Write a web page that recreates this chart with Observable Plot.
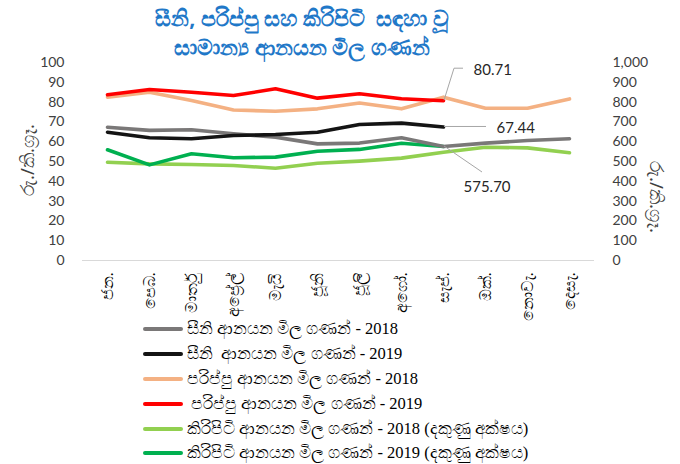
<!DOCTYPE html>
<html><head><meta charset="utf-8">
<script src="https://cdn.jsdelivr.net/npm/d3@7"></script>
<script src="https://cdn.jsdelivr.net/npm/@observablehq/plot@0.6"></script>
<style>
body{margin:0;background:#fff;width:680px;height:464px;position:relative;overflow:hidden;font-family:"Noto Sans",sans-serif}
#title{position:absolute;left:302px;top:3px;transform:translateX(-50%);text-align:center;color:#1f78c8;font-weight:bold;font-size:21.5px;line-height:29px;white-space:pre}
#chart{position:absolute;left:0;top:54px}
#legend{position:absolute;left:143px;top:317px}
.row{display:flex;align-items:center;height:24.8px;font-family:"Liberation Serif",serif;font-size:16.5px;color:#000;white-space:pre}
.sw{width:40px;height:4px;border-radius:2px;margin-right:4px}
.ytitle{position:absolute;font-size:18.5px;color:#404040;white-space:nowrap}
</style></head>
<body>
<div id="title"></div>
<div id="chart"></div>
<div class="ytitle" id="ylt"></div>
<div class="ytitle" id="yrt"></div>
<div id="legend"></div>
<script>
const titleLines = ["සීනි, පරිප්පු සහ කිරිපිටි  සඳහා වූ", "සාමාන්‍ය ආනයන මිල ගණන්"];
const axisTitle = "රු./කි.ග්‍රෑ.";
const months = ["ජන.", "පෙබ.", "මාර්තු", "අප්‍රේල්", "මැයි", "ජූනි", "ජූලි", "අගෝ.", "සැප්.", "ඔක්.", "නොවැ.", "දෙසැ."];
const leftTicks = [0,10,20,30,40,50,60,70,80,90,100];
const rightTicks = [0,100,200,300,400,500,600,700,800,900,1000];

const sugar2018 = [67.3, 65.7, 66.0, 64.0, 62.3, 58.9, 59.3, 62.0, 57.6, 59.3, 60.6, 61.5];
const sugar2019 = [64.8, 62.0, 61.5, 63.1, 63.6, 64.8, 68.7, 69.4, 67.44];
const dhal2018  = [82.5, 85.0, 80.8, 76.0, 75.4, 76.6, 79.5, 76.6, 82.5, 76.9, 76.9, 81.6];
const dhal2019  = [83.7, 86.4, 85.0, 83.3, 86.7, 82.0, 84.2, 81.7, 80.71];
const milk2018  = [496, 488, 485, 480, 466, 491, 502, 517, 547, 572, 569, 544];
const milk2019  = [559, 483, 539, 519, 522, 552, 561, 592, 575.70];

const seriesNames = [
  "සීනි ආනයන මිල ගණන් - 2018",
  "සීනි  ආනයන මිල ගණන් - 2019",
  "පරිප්පු ආනයන මිල ගණන් - 2018",
  " පරිප්පු ආනයන මිල ගණන් - 2019",
  "කිරිපිටි ආනයන මිල ගණන් - 2018 (දකුණු අක්ෂය)",
  "කිරිපිටි ආනයන මිල ගණන් - 2019 (දකුණු අක්ෂය)"
];
const seriesColors = ["#7a7878", "#141414", "#f4b183", "#ff0000", "#92d050", "#00b050"];
const seriesData = [sugar2018, sugar2019, dhal2018, dhal2019, milk2018, milk2019];
const rightAxis = [false, false, false, false, true, true];

// table built from arrays; right-axis series mapped onto left scale (÷10)
const rows = [];
seriesData.forEach((arr, s) => arr.forEach((v, i) => rows.push({series: s, month: months[i], value: v, y: rightAxis[s] ? v / 10 : v})));

// end-point annotations
const annos = [
  {series: 3, label: "80.71", lx: 10, ly: -32, tx: 30, ty: -31, seg: "elbow"},
  {series: 1, label: "67.44", lx: 42, ly: 0, tx: 53, ty: 1, seg: "straight"},
  {series: 5, label: "575.70", lx: 38, ly: 26, tx: 20, ty: 41, seg: "straight"}
].map(a => {
  const arr = seriesData[a.series];
  const v = arr[arr.length - 1];
  return {...a, month: months[arr.length - 1], y: rightAxis[a.series] ? v / 10 : v};
});

function leaders(index, scales, values, dims, context) {
  const g = d3.create("svg:g");
  for (const a of annos) {
    const x0 = scales.x(a.month) + 1, y0 = scales.y(a.y);
    const pts = a.seg === "elbow"
      ? [[x0, y0], [x0 + a.lx, y0 + a.ly], [x0 + a.lx + 9, y0 + a.ly]]
      : [[x0, y0], [x0 + a.lx, y0 + a.ly]];
    g.append("path").attr("d", d3.line()(pts)).attr("fill", "none").attr("stroke", "#a6a6a6").attr("stroke-width", 1);
  }
  return g.node();
}

const plot = Plot.plot({
  width: 680,
  height: 280,
  marginLeft: 82,
  marginRight: 86,
  marginTop: 8,
  marginBottom: 74,
  style: {fontFamily: "Lato, sans-serif", fontSize: "14px", color: "#404040", background: "transparent", overflow: "visible"},
  x: {type: "point", domain: months, padding: 0.5},
  y: {domain: [0, 100]},
  marks: [
    Plot.ruleY([0], {stroke: "#d9d9d9", strokeWidth: 1}),
    Plot.axisX({tickSize: 0, tickRotate: -90, tickPadding: 12, label: null, fontSize: 16, fill: "#000"}),
    Plot.axisY({ticks: leftTicks, tickSize: 0, tickPadding: 18, label: null, fill: "#404040", tickFormat: d3.format("d")}),
    Plot.axisY({anchor: "right", ticks: leftTicks, tickSize: 0, tickPadding: 18, label: null, fill: "#404040", tickFormat: (d, i) => d3.format(",")(rightTicks[i])}),
    ...[4, 5, 0, 1, 2, 3].map(s => Plot.line(rows.filter(r => r.series === s), {x: "month", y: "y", stroke: seriesColors[s], strokeWidth: 3.6, strokeLinejoin: "round", strokeLinecap: "round"})),
    leaders,
    Plot.text(annos, {x: "month", y: "y", text: "label", textAnchor: "start", fontSize: 15, fill: "#262626", fontFamily: "Lato, sans-serif"})
  ]
});
plot.querySelectorAll("g[aria-label='text'] text").forEach((t, i) => {
  t.setAttribute("transform", (t.getAttribute("transform") || "") + ` translate(${annos[i].tx},${annos[i].ty})`);
});
document.getElementById("chart").appendChild(plot);

document.getElementById("title").textContent = titleLines.join("\n");
const ylt = document.getElementById("ylt");
ylt.textContent = axisTitle;
ylt.style.left = "26px"; ylt.style.top = "160px"; ylt.style.transform = "translate(-50%,-50%) rotate(-90deg)";
const yrt = document.getElementById("yrt");
yrt.textContent = axisTitle;
yrt.style.left = "657px"; yrt.style.top = "197px"; yrt.style.transform = "translate(-50%,-50%) rotate(90deg)";

const leg = document.getElementById("legend");
seriesNames.forEach((n, i) => {
  const r = document.createElement("div"); r.className = "row";
  const sw = document.createElement("div"); sw.className = "sw"; sw.style.background = seriesColors[i];
  const tx = document.createElement("span"); tx.textContent = n;
  r.appendChild(sw); r.appendChild(tx); leg.appendChild(r);
});
</script>
</body></html>
